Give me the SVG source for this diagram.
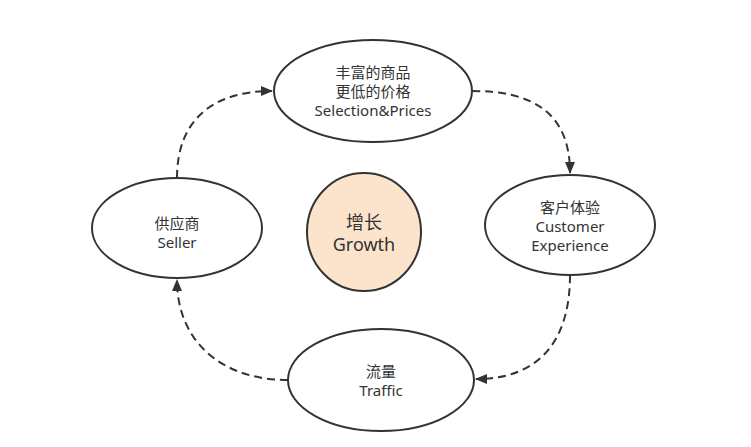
<svg xmlns="http://www.w3.org/2000/svg" width="751" height="447" viewBox="0 0 751 447">
<defs>
<marker id="arr" markerWidth="12" markerHeight="10" refX="11" refY="5" orient="auto" markerUnits="userSpaceOnUse"><path d="M0,0 L12,5 L0,10 z" fill="#333"/></marker>
<style>
.n{fill:#fff;stroke:#333;stroke-width:2}
.g{fill:#fce4cc;stroke:#333;stroke-width:2}
.t{font-family:"Noto Sans","Noto Sans CJK SC",sans-serif;font-size:15px;fill:#333;text-anchor:middle;dominant-baseline:central}
.tb{font-size:18px}
.c{fill:none;stroke:#333;stroke-width:2;stroke-dasharray:8 5;marker-end:url(#arr)}
</style>
</defs>
<rect width="751" height="447" fill="#fff"/>
<g id="connectors">
<path class="c" d="M177,178 C177,118 215,91 272,91"/>
<path class="c" d="M472,91 C532,91 570,112 570,173"/>
<path class="c" d="M570,275 C570,340 540,379 476,379"/>
<path class="c" d="M288,380 C220,380 177,340 177,280"/>
</g>
<g id="selection">
<ellipse class="n" cx="373" cy="91" rx="99" ry="51"/>
<text class="t" x="373" y="72">丰富的商品</text>
<text class="t" x="373" y="91">更低的价格</text>
<text class="t" x="373" y="110">Selection&amp;Prices</text>
</g>
<g id="seller">
<ellipse class="n" cx="177" cy="228" rx="85" ry="50"/>
<text class="t" x="177" y="223">供应商</text>
<text class="t" x="177" y="242">Seller</text>
</g>
<g id="growth">
<ellipse class="g" cx="364" cy="232" rx="57" ry="59"/>
<text class="t tb" x="364" y="222">增长</text>
<text class="t tb" x="364" y="244">Growth</text>
</g>
<g id="customer">
<ellipse class="n" cx="570" cy="225" rx="85" ry="50"/>
<text class="t" x="570" y="207">客户体验</text>
<text class="t" x="570" y="226">Customer</text>
<text class="t" x="570" y="245">Experience</text>
</g>
<g id="traffic">
<ellipse class="n" cx="381" cy="380" rx="93" ry="51"/>
<text class="t" x="381" y="371">流量</text>
<text class="t" x="381" y="390">Traffic</text>
</g>
</svg>
